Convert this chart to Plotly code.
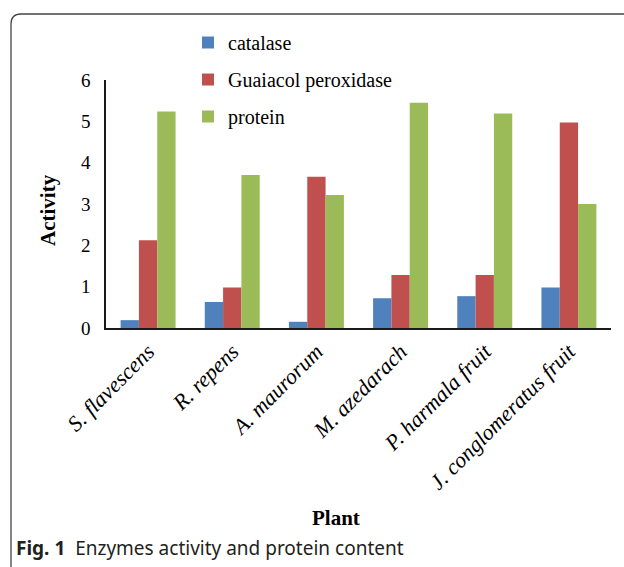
import plotly.graph_objects as go

# Plant extracts and measured values
plants = ["S. flavescens", "R. repens", "A. maurorum", "M. azedarach",
          "P. harmala fruit", "J. conglomeratus fruit"]
catalase = [0.19, 0.63, 0.15, 0.72, 0.77, 0.98]
guaiacol_peroxidase = [2.12, 0.98, 3.66, 1.28, 1.28, 4.97]
protein = [5.24, 3.70, 3.22, 5.45, 5.19, 3.00]

series_names = ["catalase", "Guaiacol peroxidase", "protein"]
series_values = [catalase, guaiacol_peroxidase, protein]
series_colors = ["#4F81BD", "#C0504D", "#9BBB59"]

W, H = 624, 567
# plot area in pixels
L, R, T, B = 106, 611, 80, 328


def px(x):
    return (x - L) / (R - L)


def py(y):
    return (B - y) / (B - T)


SERIF = "Liberation Serif, Times New Roman, serif"

fig = go.Figure()
for i, (name, vals, col) in enumerate(zip(series_names, series_values, series_colors)):
    fig.add_trace(go.Bar(
        x=plants, y=vals, name=name, legendgroup=f"g{i}",
        marker=dict(color=col, line=dict(width=0)),
    ))

fig.update_layout(
    width=W, height=H,
    margin=dict(l=L, r=W - R, t=T, b=H - B, pad=0),
    paper_bgcolor="white", plot_bgcolor="white",
    barmode="group", bargap=0.347, bargroupgap=0,
    font=dict(family=SERIF, color="black", size=18),
    showlegend=True,
    legend=dict(
        x=px(188), y=py(23), xanchor="left", yanchor="top",
        orientation="v", tracegroupgap=8,
        font=dict(family=SERIF, size=20, color="black"),
        bgcolor="rgba(0,0,0,0)", itemwidth=30,
    ),
    xaxis=dict(
        showline=True, linecolor="#1a1a1a", linewidth=2,
        ticks="", showgrid=False, tickangle=-45,
        tickfont=dict(family=SERIF, size=22, style="italic", color="black"),
        fixedrange=True,
    ),
    yaxis=dict(
        range=[0, 6], dtick=1, showline=True, linecolor="#1a1a1a", linewidth=1.5,
        ticks="", showgrid=False, zeroline=False,
        tickfont=dict(family=SERIF, size=19, color="black"),
        ticklabelstandoff=10, fixedrange=True,
    ),
)

# axis titles
fig.add_annotation(text="<b>Activity</b>", x=px(48), y=py(210), xref="paper", yref="paper",
                   xanchor="center", yanchor="middle", textangle=-90, showarrow=False,
                   font=dict(family=SERIF, size=21, color="black"))
fig.add_annotation(text="<b>Plant</b>", x=px(336), y=py(518), xref="paper", yref="paper",
                   xanchor="center", yanchor="middle", showarrow=False,
                   font=dict(family=SERIF, size=21, color="black"))

# figure caption
fig.add_annotation(
    text="<b>Fig. 1</b>  Enzymes activity and protein content",
    x=px(14), y=py(548), xref="paper", yref="paper", xanchor="left", yanchor="middle",
    showarrow=False, font=dict(family="Noto Sans", size=19, color="#231f20"),
)

# rounded frame around the figure (top and left edges)
x0, y0, rad = 11, 14, 10
path = (f"M {px(W + 5)},{py(y0)} L {px(x0 + rad)},{py(y0)} "
        f"Q {px(x0)},{py(y0)} {px(x0)},{py(y0 + rad)} "
        f"L {px(x0)},{py(H + 5)}")
fig.add_shape(type="path", path=path, xref="paper", yref="paper",
              line=dict(color="#444444", width=1.3), layer="above")

fig.write_html("out.html")
